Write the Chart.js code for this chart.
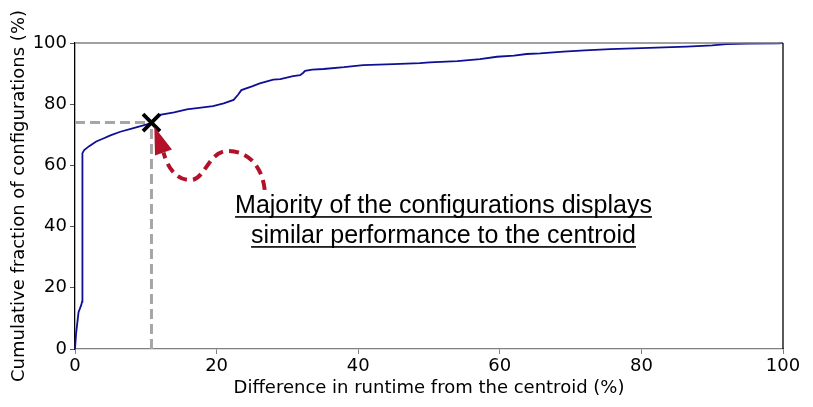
<!DOCTYPE html>
<html>
<head>
<meta charset="utf-8">
<script src="https://cdn.jsdelivr.net/npm/chart.js@4.4.1/dist/chart.umd.min.js"></script>
<style>
  html, body { margin: 0; padding: 0; background: #fff; }
  #wrap { width: 813px; height: 407px; position: relative; }
</style>
</head>
<body>
<div id="wrap"><canvas id="c" width="813" height="407"></canvas></div>
<script>
// ---- data ----
const diffPct = [0, 0.15, 0.5, 0.9, 1.0, 1.05, 1.3, 2, 3, 4, 5, 6.4, 8, 9.4, 10.8, 12, 14, 15.8, 17.5, 19.5, 21, 22.4, 23, 23.5, 25, 26.1, 28, 29, 30.8, 31.8, 32.2, 32.5, 33.5, 35.1, 38, 40.7, 45, 48.7, 50.1, 54, 57.2, 59.6, 62, 63.8, 65.7, 69, 72, 75.6, 80, 86.4, 90, 92, 95, 99.3, 100];
const cumFrac = [0, 5, 12, 14.5, 15.5, 64, 65, 66.3, 67.8, 68.8, 69.8, 71.0, 72.0, 72.9, 73.8, 76.5, 77.3, 78.3, 78.8, 79.4, 80.3, 81.4, 83, 84.6, 85.8, 86.8, 88.0, 88.2, 89.2, 89.5, 90.2, 90.9, 91.3, 91.5, 92.1, 92.8, 93.1, 93.4, 93.7, 94.1, 94.7, 95.5, 95.9, 96.4, 96.6, 97.2, 97.6, 98.0, 98.3, 98.8, 99.2, 99.6, 99.8, 99.9, 100];
const centroidX = [10.8];
const centroidY = [74];
const xTicks = [0, 20, 40, 60, 80, 100];
const yTicks = [0, 20, 40, 60, 80, 100];
const annotationLines = ["Majority of the configurations displays", "similar performance to the centroid"];

const curvePts = diffPct.map((x, i) => ({ x: x, y: cumFrac[i] }));
const markerPts = centroidX.map((x, i) => ({ x: x, y: centroidY[i] }));

const annotPlugin = {
  id: 'annot',
  afterDatasetsDraw(chart) {
    const { ctx, chartArea: a, scales } = chart;
    const xs = scales.x, ys = scales.y;
    const P = (x, y) => [xs.getPixelForValue(x), ys.getPixelForValue(y)];
    // frame: top & right
    ctx.save();
    ctx.lineWidth = 1.3;
    ctx.strokeStyle = '#808080';
    ctx.beginPath(); ctx.moveTo(a.left, a.top); ctx.lineTo(a.right, a.top); ctx.stroke();
    ctx.strokeStyle = '#000';
    ctx.beginPath(); ctx.moveTo(a.right, a.top); ctx.lineTo(a.right, a.bottom); ctx.stroke();

    // red dashed curved arrow (positions in data units)
    const S = P(26.8, 52.0), P1 = P(21.6, 64.7), T = P(16.3, 55.2), B = P(12.5, 64.2);
    const c1 = P(26.4, 60.0), c2 = P(24.4, 64.7);
    const c3 = P(18.8, 64.7), c4 = P(18.4, 55.2);
    const c5 = P(14.1, 55.2), c6 = P(13.0, 60.0);
    const tip = P(11.2, 72.6);
    ctx.strokeStyle = '#b3102a';
    ctx.lineWidth = 4;
    ctx.setLineDash([10, 6]);
    ctx.beginPath();
    ctx.moveTo(S[0], S[1]);
    ctx.bezierCurveTo(c1[0], c1[1], c2[0], c2[1], P1[0], P1[1]);
    ctx.bezierCurveTo(c3[0], c3[1], c4[0], c4[1], T[0], T[1]);
    ctx.bezierCurveTo(c5[0], c5[1], c6[0], c6[1], B[0], B[1]);
    ctx.stroke();
    ctx.setLineDash([]);
    // arrow head
    const dx = tip[0] - B[0], dy = tip[1] - B[1];
    const len = Math.hypot(dx, dy);
    const ux = dx / len, uy = dy / len;
    const hw = 9;
    ctx.fillStyle = '#b3102a';
    ctx.beginPath();
    ctx.moveTo(tip[0], tip[1]);
    ctx.lineTo(B[0] - uy * hw, B[1] + ux * hw);
    ctx.lineTo(B[0] + uy * hw, B[1] - ux * hw);
    ctx.closePath();
    ctx.fill();

    // underlined annotation text
    ctx.font = '25px "Liberation Sans", Arial, sans-serif';
    ctx.fillStyle = '#000';
    ctx.textAlign = 'center';
    ctx.textBaseline = 'alphabetic';
    const anchors = [P(52.05, 44.4), P(52.05, 34.6)];
    annotationLines.forEach((t, i) => {
      const [cx, by] = anchors[i];
      ctx.fillText(t, cx, by);
      const w = ctx.measureText(t).width;
      ctx.fillRect(cx - w / 2, by + 3, w, 1.6);
    });
    ctx.restore();
  }
};

new Chart(document.getElementById('c'), {
  type: 'line',
  data: {
    datasets: [
      {
        data: curvePts, borderColor: '#0f0f96', borderWidth: 1.8,
        pointRadius: 0, tension: 0, fill: false, clip: false, order: 3
      },
      {
        data: [{ x: 0, y: centroidY[0] }, { x: centroidX[0], y: centroidY[0] }],
        borderColor: '#a6a6a6', borderWidth: 3, borderDash: [10, 5],
        pointRadius: 0, fill: false, clip: false, order: 4
      },
      {
        data: [{ x: centroidX[0], y: 0 }, { x: centroidX[0], y: centroidY[0] }],
        borderColor: '#a6a6a6', borderWidth: 3, borderDash: [10, 5],
        pointRadius: 0, fill: false, clip: false, order: 4
      },
      {
        type: 'scatter', data: markerPts, pointStyle: 'crossRot', pointRadius: 12,
        borderColor: '#000', borderWidth: 3.8, clip: false, order: 1
      }
    ]
  },
  options: {
    responsive: false,
    animation: false,
    layout: { padding: { left: 7, top: 43, right: 30, bottom: 8 } },
    plugins: { legend: { display: false }, tooltip: { enabled: false } },
    scales: {
      x: {
        type: 'linear', min: 0, max: 100,
        afterBuildTicks: (s) => { s.ticks = xTicks.map(v => ({ value: v })); },
        afterFit: (s) => { s.height = 50; },
        grid: { drawOnChartArea: false, drawTicks: true, tickLength: 5, color: '#808080', lineWidth: 1 },
        border: { display: true, color: '#808080', width: 1.3 },
        ticks: { color: '#000', padding: 2, maxRotation: 0, font: { family: '"DejaVu Sans"', size: 18 } },
        title: { display: true, text: 'Difference in runtime from the centroid (%)', color: '#000',
                 font: { family: '"DejaVu Sans"', size: 18 }, padding: { top: 0, bottom: 0 } }
      },
      y: {
        type: 'linear', min: 0, max: 100,
        afterBuildTicks: (s) => { s.ticks = yTicks.map(v => ({ value: v })); },
        afterFit: (s) => { s.width = 68; },
        grid: { drawOnChartArea: false, drawTicks: true, tickLength: 5, color: '#555', lineWidth: 1 },
        border: { display: true, color: '#000', width: 1.3 },
        ticks: { color: '#000', padding: 3, font: { family: '"DejaVu Sans"', size: 18 } },
        title: { display: true, text: 'Cumulative fraction of configurations (%)', color: '#000',
                 font: { family: '"DejaVu Sans"', size: 18 }, padding: { top: 2, bottom: 0 } }
      }
    }
  },
  plugins: [annotPlugin]
});
</script>
</body>
</html>
